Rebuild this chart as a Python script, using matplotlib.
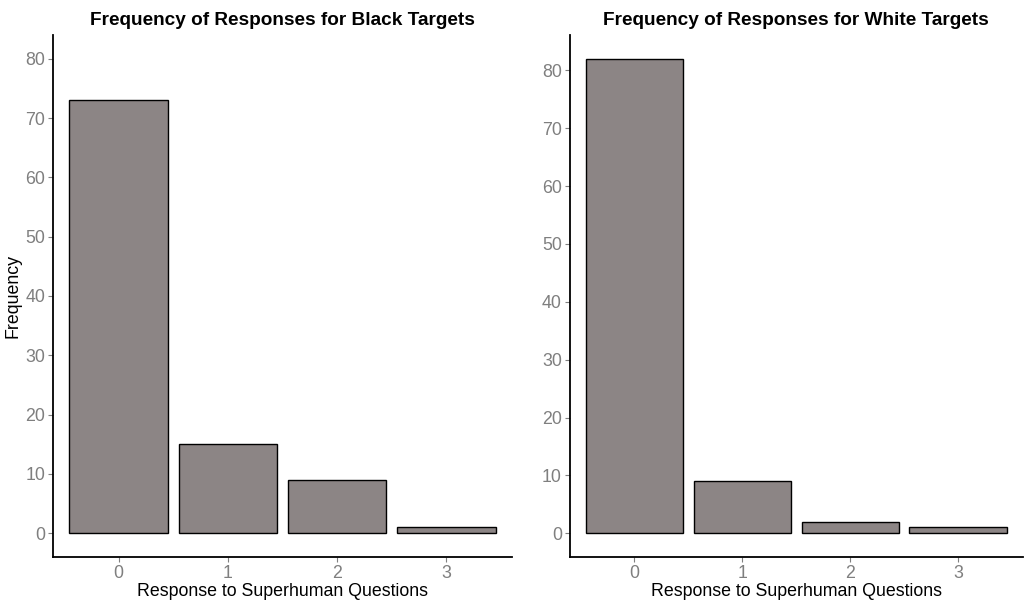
import matplotlib
matplotlib.use("Agg")
import matplotlib.pyplot as plt

plt.rcParams['font.family'] = ['Liberation Sans', 'DejaVu Sans']

# Response categories and counts
responses = ['0', '1', '2', '3']
black_counts = [73, 15, 9, 1]
white_counts = [82, 9, 2, 1]

bar_color = '#8c8585'
tick_color = '#7f7f7f'

fig = plt.figure(figsize=(10.3, 6.03), dpi=100)
ax1 = fig.add_axes([0.0515, 0.0763, 0.4455, 0.8657])
ax2 = fig.add_axes([0.5530, 0.0763, 0.4400, 0.8657])

def draw_panel(ax, counts, title, ymax, ylabel=None):
    x = list(range(len(responses)))
    ax.bar(x, counts, width=0.9, color=bar_color, edgecolor='black', linewidth=1.0)
    ax.set_xticks(x)
    ax.set_xticklabels(responses)
    ax.set_xlim(-0.6, len(responses) - 0.4)
    ax.set_ylim(-0.05 * ymax, 1.05 * ymax)
    ax.set_yticks([0, 10, 20, 30, 40, 50, 60, 70, 80])
    ax.set_title(title, fontsize=13.7, fontweight='bold', pad=7)
    ax.set_xlabel('Response to Superhuman Questions', fontsize=12.8, labelpad=1)
    if ylabel:
        ax.set_ylabel(ylabel, fontsize=12.8, labelpad=3)
    for side in ['top', 'right']:
        ax.spines[side].set_visible(False)
    for side in ['left', 'bottom']:
        ax.spines[side].set_linewidth(1.3)
        ax.spines[side].set_color('black')
    ax.tick_params(axis='both', colors=tick_color, labelsize=12.8, length=3.5, width=0.8)
    ax.tick_params(axis='x', pad=2)
    ax.tick_params(axis='y', pad=2)

draw_panel(ax1, black_counts, 'Frequency of Responses for Black Targets', 80, 'Frequency')
draw_panel(ax2, white_counts, 'Frequency of Responses for White Targets', 82)

fig.savefig('out.png', dpi=100, facecolor='white')
